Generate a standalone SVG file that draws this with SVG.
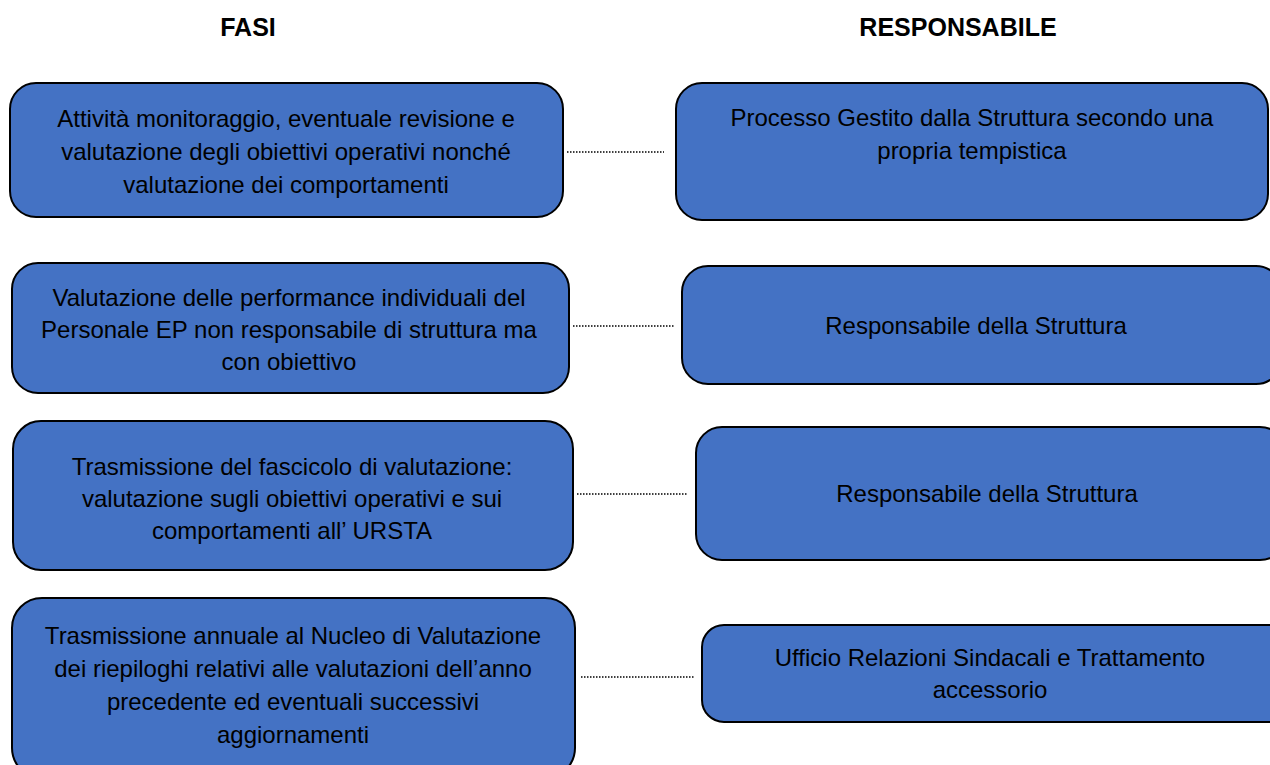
<svg xmlns="http://www.w3.org/2000/svg" width="1270" height="765" viewBox="0 0 1270 765">
<style>
.box{fill:#4472C4;stroke:#000;stroke-width:2}
.t{font-family:"Liberation Sans",Arial,sans-serif;font-size:24px;fill:#000;text-anchor:middle}
.h{font-family:"Liberation Sans",Arial,sans-serif;font-size:25px;font-weight:bold;fill:#000;text-anchor:middle}
.c{stroke:#000;stroke-width:1.5;stroke-dasharray:1.5 1.5;fill:none}
</style>
<rect width="1270" height="765" fill="#fff"/>
<text class="h" x="248" y="36">FASI</text>
<text class="h" x="958" y="36">RESPONSABILE</text>
<g id="connectors">
<line class="c" x1="567" y1="152" x2="664" y2="152"/>
<line class="c" x1="573" y1="326" x2="674" y2="326"/>
<line class="c" x1="577" y1="494" x2="688" y2="494"/>
<line class="c" x1="581" y1="677" x2="695" y2="677"/>
</g>
<g id="fase1">
<rect class="box" x="10" y="83" width="553" height="134" rx="26"/>
<text class="t" x="286" y="127">Attività monitoraggio, eventuale revisione e</text>
<text class="t" x="286" y="160">valutazione degli obiettivi operativi nonché</text>
<text class="t" x="286" y="193">valutazione dei comportamenti</text>
</g>
<g id="resp1">
<rect class="box" x="676" y="83" width="592" height="137" rx="26"/>
<text class="t" x="972" y="126">Processo Gestito dalla Struttura secondo una</text>
<text class="t" x="972" y="159">propria tempistica</text>
</g>
<g id="fase2">
<rect class="box" x="12" y="263" width="557" height="130" rx="26"/>
<text class="t" x="289" y="306">Valutazione delle performance individuali del</text>
<text class="t" x="289" y="338">Personale EP non responsabile di struttura ma</text>
<text class="t" x="289" y="370">con obiettivo</text>
</g>
<g id="resp2">
<rect class="box" x="682" y="266" width="600" height="118" rx="26"/>
<text class="t" x="976" y="334">Responsabile della Struttura</text>
</g>
<g id="fase3">
<rect class="box" x="13" y="421" width="560" height="149" rx="28"/>
<text class="t" x="292" y="475">Trasmissione del fascicolo di valutazione:</text>
<text class="t" x="292" y="507">valutazione sugli obiettivi operativi e sui</text>
<text class="t" x="292" y="539">comportamenti all’ URSTA</text>
</g>
<g id="resp3">
<rect class="box" x="696" y="427" width="590" height="133" rx="26"/>
<text class="t" x="987" y="502">Responsabile della Struttura</text>
</g>
<g id="fase4">
<rect class="box" x="12" y="598" width="563" height="180" rx="30"/>
<text class="t" x="293" y="644">Trasmissione annuale al Nucleo di Valutazione</text>
<text class="t" x="293" y="677">dei riepiloghi relativi alle valutazioni dell’anno</text>
<text class="t" x="293" y="710">precedente ed eventuali successivi</text>
<text class="t" x="293" y="743">aggiornamenti</text>
</g>
<g id="resp4">
<rect class="box" x="702" y="625" width="590" height="97" rx="22"/>
<text class="t" x="990" y="666">Ufficio Relazioni Sindacali e Trattamento</text>
<text class="t" x="990" y="698">accessorio</text>
</g>
</svg>
